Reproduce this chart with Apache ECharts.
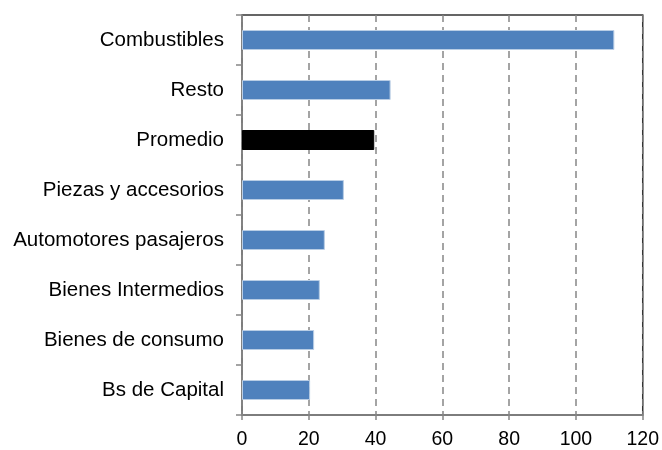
<!DOCTYPE html>
<html><head><meta charset="utf-8">
<script src="https://cdn.jsdelivr.net/npm/echarts@6/dist/echarts.min.js"></script>
<style>html,body{margin:0;padding:0;background:#fff}#c{width:662px;height:450px}</style>
</head><body><div id="c"></div>
<script>
var categories = ["Combustibles","Resto","Promedio","Piezas y accesorios","Automotores pasajeros","Bienes Intermedios","Bienes de consumo","Bs de Capital"];
var values = [111.5, 44.5, 39.6, 30.5, 24.8, 23.3, 21.6, 20.4];
var highlight = "Promedio";
var xTicks = [0,20,40,60,80,100,120];

var chart = echarts.init(document.getElementById('c'));
chart.setOption({
  animation:false,
  grid:{left:242,right:18,top:15,bottom:34,show:true,borderColor:'#333',borderWidth:1.5},
  xAxis:{type:'value',min:xTicks[0],max:xTicks[xTicks.length-1],interval:xTicks[1]-xTicks[0],
    axisLine:{show:true,lineStyle:{color:'#868686',width:1.5}},
    axisTick:{show:true,length:5,lineStyle:{color:'#868686',width:1.5}},
    axisLabel:{color:'#000',fontSize:19.5,fontFamily:'Liberation Sans, Arial',margin:15},
    splitLine:{show:true,lineStyle:{color:'#868686',width:1.5,type:[7,5]}}},
  yAxis:{type:'category',data:categories,inverse:true,
    axisLine:{show:true,lineStyle:{color:'#868686',width:1.5}},
    axisTick:{show:true,length:6,lineStyle:{color:'#868686',width:1.5}},
    axisLabel:{color:'#000',fontSize:20.5,fontFamily:'Liberation Sans, Arial',margin:18}},
  series:[{type:'bar',barWidth:20,
    data:values.map(function(v,i){
      return categories[i]===highlight ? {value:v,itemStyle:{color:'#000',borderColor:'#000'}} : v;}),
    itemStyle:{color:'#4F81BD',borderColor:'#B9CDE5',borderWidth:1}}]
});
</script></body></html>
